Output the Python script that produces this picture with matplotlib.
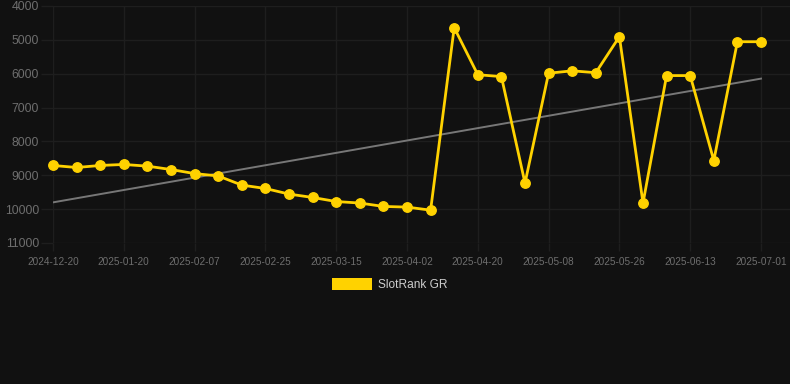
import matplotlib
matplotlib.use("Agg")
import matplotlib.pyplot as plt
import numpy as np
from matplotlib.patches import Rectangle

plt.rcParams["font.family"] = ["Liberation Sans", "DejaVu Sans"]

# Dates of the samples (category axis, label every 3rd point)
tick_labels = [
	"2024-12-20", "2025-01-20", "2025-02-07", "2025-02-25", "2025-03-15", "2025-04-02",
	"2025-04-20", "2025-05-08", "2025-05-26", "2025-06-13", "2025-07-01",
]

rank_values = [
	8710, 8770, 8710, 8680, 8730, 8830, 8950, 9020, 9290, 9390, 9555,
	9655, 9775, 9820, 9920, 9940, 10030, 4640, 6030, 6085, 9230, 5985,
	5915, 5970, 4905, 9820, 6055, 6055, 8565, 5055, 5055,
]

# Trend line end values (start, end)
trend_values = [9800, 6145]

series_label = "SlotRank GR"

BG = "#111111"
GRID = "#1e1e1e"
TICK = "#6e6e6e"
YELLOW = "#ffd200"

W, H = 790, 384
fig = plt.figure(figsize=(W / 100, H / 100), dpi=100, facecolor=BG)

n = len(rank_values)
x = np.arange(n)
step = (761 - 53) / (n - 1)
right_pad = (790 - 761) / step

left = 53 / W
bottom = 1 - 243 / H
top = 1 - 6 / H
ax = fig.add_axes([left, bottom, 1 - left, top - bottom], facecolor=BG)

ax.set_xlim(0, n - 1 + right_pad)
ax.set_ylim(11000, 4000)

for s in ax.spines.values():
	s.set_visible(False)

ax.set_yticks(np.arange(4000, 11001, 1000))
ax.set_xticks(x[::3])
ax.set_xticklabels(tick_labels)
ax.grid(True, color=GRID, linewidth=1)
ax.set_axisbelow(True)

ax.tick_params(axis="y", length=9, color=GRID, width=1, pad=1, labelsize=8.8, labelcolor=TICK)
ax.tick_params(axis="x", length=6, color=GRID, width=1, pad=4, labelsize=7.2, labelcolor=TICK)

ax.plot([x[0], x[-1]], trend_values, color="#777777", linewidth=1.4, zorder=2)
ax.plot(x, rank_values, color=YELLOW, linewidth=2.0, marker="o", markersize=6.8,
		markerfacecolor=YELLOW, markeredgecolor=YELLOW, zorder=3, clip_on=False)

# Legend
fig.patches.append(Rectangle((332 / W, 1 - 290 / H), 40 / W, 12 / H,
							 transform=fig.transFigure, facecolor=YELLOW, edgecolor="none"))
fig.text(378 / W, 1 - 285 / H, series_label, color="#cccccc", fontsize=8.6, va="center", ha="left")

fig.savefig("out.png", dpi=100, facecolor=BG)
